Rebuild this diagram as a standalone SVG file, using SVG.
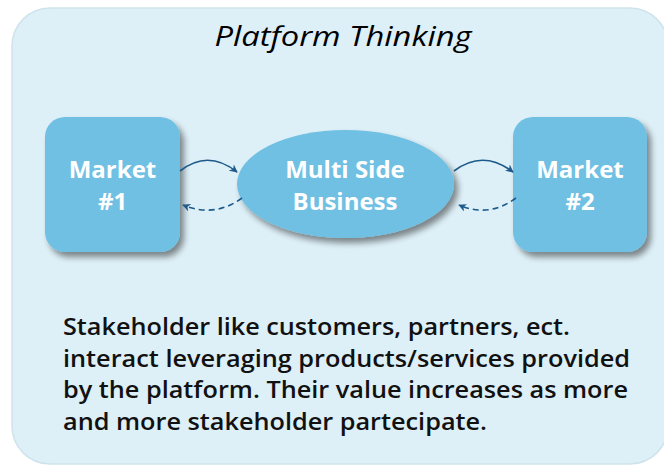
<svg xmlns="http://www.w3.org/2000/svg" width="664" height="469" viewBox="0 0 664 469">
<defs>
<filter id="sh" x="-20%" y="-20%" width="150%" height="150%">
<feGaussianBlur in="SourceAlpha" stdDeviation="3"/>
<feOffset dx="4" dy="5" result="b"/>
<feComponentTransfer><feFuncA type="linear" slope="0.45"/></feComponentTransfer>
<feMerge><feMergeNode/><feMergeNode in="SourceGraphic"/></feMerge>
</filter>
<marker id="ah" viewBox="0 0 10 10" refX="9" refY="5" markerWidth="8" markerHeight="8" markerUnits="userSpaceOnUse" orient="auto">
<path d="M0,0 L10,5 L0,10 L3,5 z" fill="#1d5a8a"/>
</marker>
<style>
.node{fill:#6fc0e3;filter:url(#sh)}
.lbl{font-family:"Open Sans","Noto Sans",sans-serif;font-weight:700;font-size:24px;fill:#ffffff;text-anchor:middle}
.c{fill:none;stroke:#1d5a8a;stroke-width:1.6}
.d{stroke-dasharray:6 4}
.body{font-family:"Open Sans","Noto Sans",sans-serif;font-weight:600;font-size:23px;fill:#111}
</style>
</defs>
<rect x="12" y="8" width="656" height="456" rx="38" fill="#ddeff7" stroke="#cfe3ed" stroke-width="1.5"/>
<text x="343" y="46" font-family="'Open Sans','Noto Sans',sans-serif" font-style="italic" font-weight="500" font-size="28" fill="#000" text-anchor="middle" textLength="257" lengthAdjust="spacingAndGlyphs">Platform Thinking</text>
<g id="market1">
<rect class="node" x="45" y="117" width="135" height="135" rx="20"/>
<text class="lbl" x="112.5" y="178">Market</text>
<text class="lbl" x="112.5" y="210">#1</text>
</g>
<g id="business">
<ellipse class="node" cx="345.5" cy="184" rx="108.5" ry="54"/>
<text class="lbl" x="345" y="178">Multi Side</text>
<text class="lbl" x="345" y="210">Business</text>
</g>
<g id="market2">
<rect class="node" x="513" y="117" width="134" height="135" rx="20"/>
<text class="lbl" x="580" y="178">Market</text>
<text class="lbl" x="580" y="210">#2</text>
</g>
<g id="connectors">
<path class="c" d="M180,171 Q208,149 237,172" marker-end="url(#ah)"/>
<path class="c d" d="M242,198 Q215,218 183,205" marker-end="url(#ah)"/>
<path class="c" d="M454,171 Q483,149 513,172" marker-end="url(#ah)"/>
<path class="c d" d="M516,198 Q489,218 459,205" marker-end="url(#ah)"/>
</g>
<g class="body">
<text x="63" y="335" textLength="507" lengthAdjust="spacingAndGlyphs">Stakeholder like customers, partners, ect.</text>
<text x="63" y="367" textLength="567" lengthAdjust="spacingAndGlyphs">interact leveraging products/services provided</text>
<text x="63" y="398" textLength="565" lengthAdjust="spacingAndGlyphs">by the platform. Their value increases as more</text>
<text x="63" y="430" textLength="424" lengthAdjust="spacingAndGlyphs">and more stakeholder partecipate.</text>
</g>
</svg>
